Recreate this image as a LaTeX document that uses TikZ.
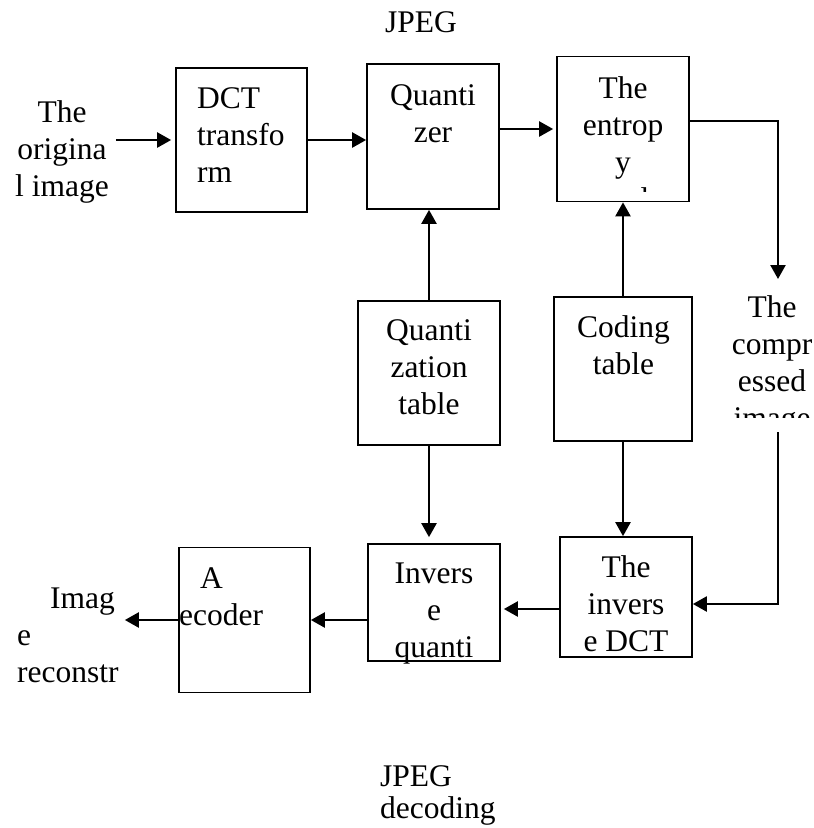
\documentclass[tikz,border=0pt]{standalone}
\usepackage{fontspec}
\setmainfont{Liberation Serif}
\usetikzlibrary{arrows.meta}

\begin{document}
\begin{tikzpicture}[x=1pt,y=-1pt,
  blk/.style={draw, line width=1.7pt, inner sep=0pt},
  txt/.style={inner sep=0pt, align=center, anchor=north, font=\fontsize{31.5}{37}\selectfont},
  ltxt/.style={txt, align=left, anchor=north west},
  arr/.style={line width=2.3pt, -{Triangle[length=14pt,width=15pt]}}]
  \useasboundingbox (0,0) rectangle (814,828);

  % boxes
  \node[blk, minimum width=131pt, minimum height=144pt] (dct)     at (241.5,140)  {};
  \node[blk, minimum width=132pt, minimum height=145pt] (quant)   at (433,136.5)  {};
  \node[blk, minimum width=132pt, minimum height=145pt] (entropy) at (623,129)    {};
  \node[blk, minimum width=142pt, minimum height=144pt] (qtable)  at (429,373)    {};
  \node[blk, minimum width=138pt, minimum height=144pt] (ctable)  at (623,369)    {};
  \node[blk, minimum width=132pt, minimum height=117pt] (invq)    at (434,602.5)  {};
  \node[blk, minimum width=132pt, minimum height=120pt] (idct)    at (626,597)    {};
  \node[blk, minimum width=131pt, minimum height=145pt] (decoder) at (244.5,620)  {};

  % texts
  \node[txt]  (jpegtop) at (421,6.1)      {\strut JPEG};
  \node[txt]  (orig)    at (62,96.1)      {\strut The\\origina\\l image};
  \node[ltxt] (dcttxt)  at (197,82.1)     {\strut DCT\\transfo\\rm};
  \node[txt]  (qtxt)    at (433,79.1)     {\strut Quanti\\zer};
  \begin{scope}
    \clip (557,57) rectangle (689,191);
    \node[txt] (etxt) at (623,72.1) {\strut The\\entrop\\y\\encoder};
  \end{scope}
  \node[txt]  (qttxt)   at (429,314.1)    {\strut Quanti\\zation\\table};
  \node[txt]  (cttxt)   at (623.5,311.1)  {\strut Coding\\table};
  \begin{scope}
    \clip (720,280) rectangle (814,417);
    \node[txt] (compr) at (772,291.1) {\strut The\\compr\\essed\\image};
  \end{scope}
  \node[txt]  (idtxt)   at (626,551.1)    {\strut The\\invers\\e DCT};
  \node[txt]  (iqtxt)   at (434,557.1)    {\strut Invers\\e\\quanti};
  \node[ltxt] (dectxt)  at (179,562.1)    {\strut\hspace*{21pt}A\\ecoder};
  \node[ltxt] (recon)   at (17,582.1)     {\strut\hspace*{33pt}Imag\\e\\reconstr};
  \node[ltxt, font=\fontsize{31.5}{31}\selectfont] (jpegbot) at (380,764.3) {\strut JPEG\\decoding};

  \coordinate (outtop)  at (778,121);
  \coordinate (outend)  at (778,279);
  \coordinate (backtop) at (778,432);
  \coordinate (backbot) at (778,604);

  \draw[arr, shorten <=7pt, shorten >=4pt] (orig.east |- dct.west) -- (dct.west);
  \draw[arr] (dct.east) -- (dct.east -| quant.west);
  \draw[arr, shorten >=3pt] (quant.east |- entropy.west) -- (entropy.west);
  \draw[arr] (entropy.east |- outtop) -- (outtop) -- (outend);
  \draw[arr] (qtable.north) -- (qtable.north |- quant.south);
  \draw[arr] (ctable.north) -- (ctable.north |- entropy.south);
  \draw[arr, shorten >=6pt] (qtable.south) -- (qtable.south |- invq.north);
  \draw[arr] (ctable.south) -- (ctable.south |- idct.north);
  \draw[arr] (backtop) -- (backbot) -- (backbot -| idct.east);
  \draw[arr, shorten >=3pt] ([yshift=-12pt]idct.west) -- ([yshift=-12pt]idct.west -| invq.east);
  \draw[arr] (invq.west |- decoder.east) -- (decoder.east);
  \draw[arr, shorten >=6pt] (decoder.west) -- (decoder.west -| recon.east);
\end{tikzpicture}
\end{document}
